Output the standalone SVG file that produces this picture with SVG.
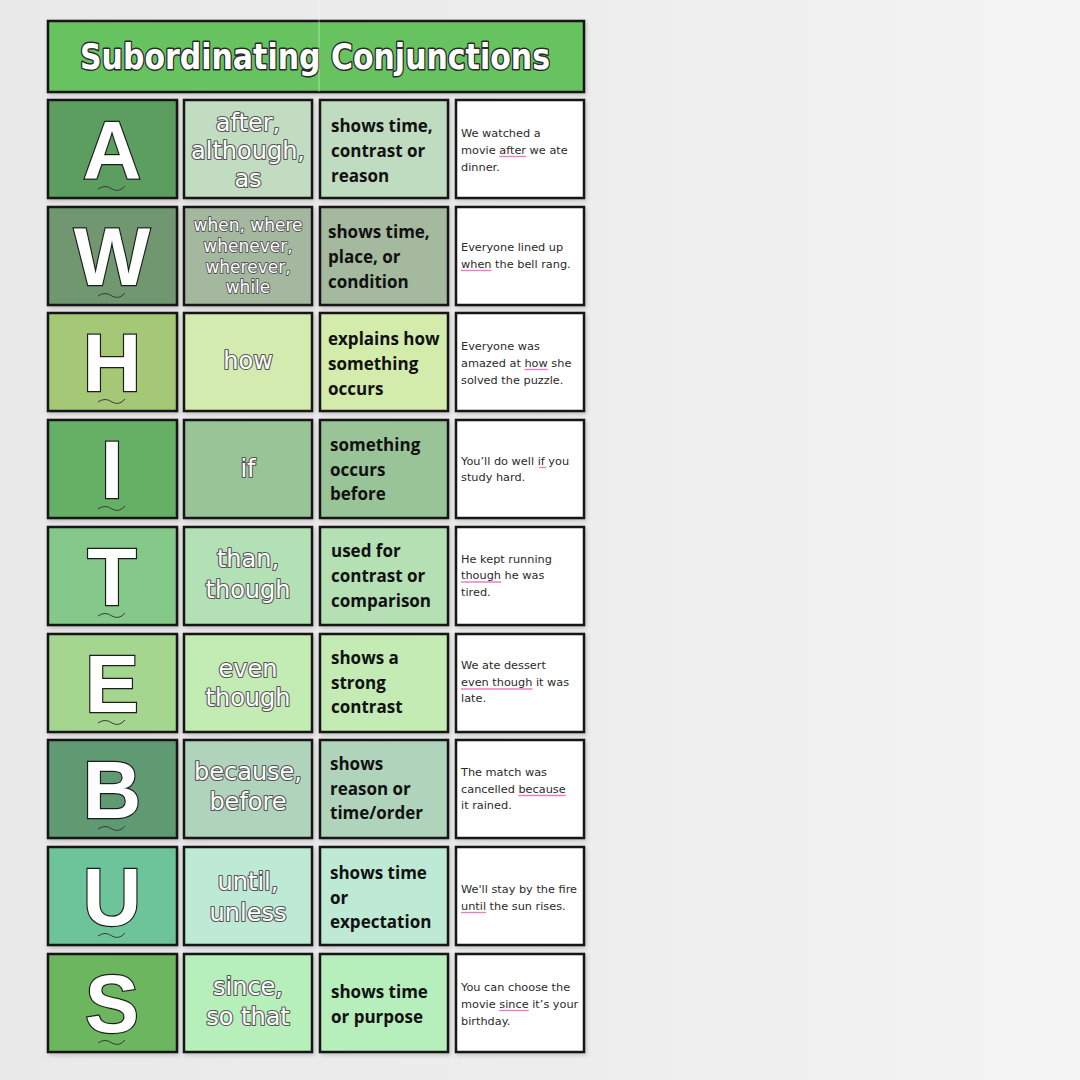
<svg xmlns="http://www.w3.org/2000/svg" width="1080" height="1080" viewBox="0 0 1080 1080">
<defs>
<linearGradient id="bg" x1="0" y1="0" x2="1" y2="0">
<stop offset="0" stop-color="#e9e9e9"/>
<stop offset="0.6" stop-color="#eeeeee"/>
<stop offset="1" stop-color="#f4f4f4"/>
</linearGradient>
<filter id="sh" x="-10%" y="-10%" width="125%" height="125%">
<feDropShadow dx="1.5" dy="2" stdDeviation="2" flood-color="#000" flood-opacity="0.18"/>
</filter>
<path id="squig" d="M-14,0 q7,-5 14,0 q7,4 13,-3" fill="none" stroke="#3a3a3a" stroke-width="1"/>
</defs>
<style>
.box{stroke:#141414;stroke-width:2.5;filter:url(#sh)}
.ex{fill:#ffffff}
.let{font-family:"Liberation Sans",Arial,sans-serif;font-weight:700;font-size:81px;fill:#ffffff;stroke:#1e1e1e;stroke-width:2.4;paint-order:stroke;text-anchor:middle}
.conj{font-family:"DejaVu Sans",sans-serif;font-size:24px;fill:#ffffff;stroke:#555555;stroke-width:2.2;stroke-linejoin:round;paint-order:stroke;text-anchor:middle}
.conj.sm{font-size:17px;stroke-width:1.8}
.desc{font-family:"Open Sans",sans-serif;font-weight:700;font-size:17px;fill:#111111}
.samp{font-family:"DejaVu Sans",sans-serif;font-size:11.3px;fill:#2a2a2a}
.ul{stroke:#f27bc0;stroke-width:1.4;fill:none}
.title{font-family:"DejaVu Sans",sans-serif;font-weight:700;font-size:36px;fill:#ffffff;stroke:#2a2a2a;stroke-width:3;stroke-linejoin:round;paint-order:stroke;text-anchor:middle}
</style>
<rect x="0" y="0" width="1080" height="1080" fill="url(#bg)"/>

<g id="header">
<rect class="box" x="48" y="21" width="536" height="71" fill="#66c35f"/>
<text class="title" x="315" y="69" textLength="470" lengthAdjust="spacingAndGlyphs">Subordinating Conjunctions</text>
</g>
<line x1="319" y1="0" x2="319" y2="92" stroke="#ffffff" stroke-opacity="0.45" stroke-width="1"/>

<!-- Row A -->
<g transform="translate(0,100)">
<g id="letter-A"><rect class="box" x="48" y="0" width="129" height="98" fill="#5c9e60"/><text class="let" x="112" y="78">A</text><use href="#squig" x="112" y="89"/></g>
<g id="conj-A"><rect class="box" x="184" y="0" width="128" height="98" fill="#c1dcc1"/>
<text class="conj" x="248" y="31">after,</text><text class="conj" x="248" y="59">although,</text><text class="conj" x="248" y="87">as</text></g>
<g id="desc-A"><rect class="box" x="320" y="0" width="128" height="98" fill="#c0dcc0"/>
<text class="desc" x="331" y="32">shows time,</text><text class="desc" x="331" y="57">contrast or</text><text class="desc" x="331" y="82">reason</text></g>
<g id="ex-A"><rect class="box ex" x="456" y="0" width="128" height="98"/>
<line class="ul" x1="499.3" y1="56.5" x2="526.2" y2="56.5"/>
<text class="samp" x="461" y="37">We watched a</text><text class="samp" x="461" y="54">movie after we ate</text><text class="samp" x="461" y="71">dinner.</text></g>
</g>

<!-- Row W -->
<g transform="translate(0,207)">
<g id="letter-W"><rect class="box" x="48" y="0" width="129" height="98" fill="#6f9770"/><text class="let" x="112" y="78">W</text><use href="#squig" x="112" y="89"/></g>
<g id="conj-W"><rect class="box" x="184" y="0" width="128" height="98" fill="#a3b89f"/>
<text class="conj sm" x="248" y="24">when, where</text><text class="conj sm" x="248" y="45">whenever,</text><text class="conj sm" x="248" y="66">wherever,</text><text class="conj sm" x="248" y="86">while</text></g>
<g id="desc-W"><rect class="box" x="320" y="0" width="128" height="98" fill="#a5b99e"/>
<text class="desc" x="328" y="31">shows time,</text><text class="desc" x="328" y="56">place, or</text><text class="desc" x="328" y="81">condition</text></g>
<g id="ex-W"><rect class="box ex" x="456" y="0" width="128" height="98"/>
<line class="ul" x1="461" y1="63.5" x2="491.5" y2="63.5"/>
<text class="samp" x="461" y="44">Everyone lined up</text><text class="samp" x="461" y="61">when the bell rang.</text></g>
</g>

<!-- Row H -->
<g transform="translate(0,313)">
<g id="letter-H"><rect class="box" x="48" y="0" width="129" height="98" fill="#a4c874"/><text class="let" x="112" y="78">H</text><use href="#squig" x="112" y="89"/></g>
<g id="conj-H"><rect class="box" x="184" y="0" width="128" height="98" fill="#d3ebaf"/>
<text class="conj" x="248" y="56">how</text></g>
<g id="desc-H"><rect class="box" x="320" y="0" width="128" height="98" fill="#d3ebab"/>
<text class="desc" x="328" y="32">explains how</text><text class="desc" x="328" y="57">something</text><text class="desc" x="328" y="82">occurs</text></g>
<g id="ex-H"><rect class="box ex" x="456" y="0" width="128" height="98"/>
<line class="ul" x1="524.5" y1="56.5" x2="547.8" y2="56.5"/>
<text class="samp" x="461" y="37">Everyone was</text><text class="samp" x="461" y="54">amazed at how she</text><text class="samp" x="461" y="71">solved the puzzle.</text></g>
</g>

<!-- Row I -->
<g transform="translate(0,420)">
<g id="letter-I"><rect class="box" x="48" y="0" width="129" height="98" fill="#66b066"/><text class="let" x="112" y="78">I</text><use href="#squig" x="112" y="89"/></g>
<g id="conj-I"><rect class="box" x="184" y="0" width="128" height="98" fill="#98c498"/>
<text class="conj" x="248" y="57">if</text></g>
<g id="desc-I"><rect class="box" x="320" y="0" width="128" height="98" fill="#99c497"/>
<text class="desc" x="330" y="31">something</text><text class="desc" x="330" y="56">occurs</text><text class="desc" x="330" y="80">before</text></g>
<g id="ex-I"><rect class="box ex" x="456" y="0" width="128" height="98"/>
<line class="ul" x1="539.2" y1="47.5" x2="546.3" y2="47.5"/>
<text class="samp" x="461" y="45">You’ll do well if you</text><text class="samp" x="461" y="61">study hard.</text></g>
</g>

<!-- Row T -->
<g transform="translate(0,527)">
<g id="letter-T"><rect class="box" x="48" y="0" width="129" height="98" fill="#84c88a"/><text class="let" x="112" y="78">T</text><use href="#squig" x="112" y="89"/></g>
<g id="conj-T"><rect class="box" x="184" y="0" width="128" height="98" fill="#b3e0b5"/>
<text class="conj" x="248" y="40">than,</text><text class="conj" x="248" y="71">though</text></g>
<g id="desc-T"><rect class="box" x="320" y="0" width="128" height="98" fill="#b4e0b4"/>
<text class="desc" x="331" y="30">used for</text><text class="desc" x="331" y="55">contrast or</text><text class="desc" x="331" y="80">comparison</text></g>
<g id="ex-T"><rect class="box ex" x="456" y="0" width="128" height="98"/>
<line class="ul" x1="461" y1="55" x2="501" y2="55"/>
<text class="samp" x="461" y="36">He kept running</text><text class="samp" x="461" y="52">though he was</text><text class="samp" x="461" y="69">tired.</text></g>
</g>

<!-- Row E -->
<g transform="translate(0,634)">
<g id="letter-E"><rect class="box" x="48" y="0" width="129" height="98" fill="#a5d68f"/><text class="let" x="112" y="78">E</text><use href="#squig" x="112" y="89"/></g>
<g id="conj-E"><rect class="box" x="184" y="0" width="128" height="98" fill="#c3ebb4"/>
<text class="conj" x="248" y="43">even</text><text class="conj" x="248" y="72">though</text></g>
<g id="desc-E"><rect class="box" x="320" y="0" width="128" height="98" fill="#c3ebb3"/>
<text class="desc" x="331" y="30">shows a</text><text class="desc" x="331" y="55">strong</text><text class="desc" x="331" y="79">contrast</text></g>
<g id="ex-E"><rect class="box ex" x="456" y="0" width="128" height="98"/>
<line class="ul" x1="461" y1="55" x2="532.4" y2="55"/>
<text class="samp" x="461" y="35">We ate dessert</text><text class="samp" x="461" y="52">even though it was</text><text class="samp" x="461" y="68">late.</text></g>
</g>

<!-- Row B -->
<g transform="translate(0,740)">
<g id="letter-B"><rect class="box" x="48" y="0" width="129" height="98" fill="#5e9a72"/><text class="let" x="112" y="78">B</text><use href="#squig" x="112" y="89"/></g>
<g id="conj-B"><rect class="box" x="184" y="0" width="128" height="98" fill="#afd3bb"/>
<text class="conj" x="248" y="40">because,</text><text class="conj" x="248" y="70">before</text></g>
<g id="desc-B"><rect class="box" x="320" y="0" width="128" height="98" fill="#afd3bb"/>
<text class="desc" x="330" y="30">shows</text><text class="desc" x="330" y="55">reason or</text><text class="desc" x="330" y="79">time/order</text></g>
<g id="ex-B"><rect class="box ex" x="456" y="0" width="128" height="98"/>
<line class="ul" x1="518.5" y1="55.5" x2="565.8" y2="55.5"/>
<text class="samp" x="461" y="36">The match was</text><text class="samp" x="461" y="53">cancelled because</text><text class="samp" x="461" y="69">it rained.</text></g>
</g>

<!-- Row U -->
<g transform="translate(0,847)">
<g id="letter-U"><rect class="box" x="48" y="0" width="129" height="98" fill="#6dc49b"/><text class="let" x="112" y="78">U</text><use href="#squig" x="112" y="89"/></g>
<g id="conj-U"><rect class="box" x="184" y="0" width="128" height="98" fill="#bde9d5"/>
<text class="conj" x="248" y="43">until,</text><text class="conj" x="248" y="74">unless</text></g>
<g id="desc-U"><rect class="box" x="320" y="0" width="128" height="98" fill="#bde9d5"/>
<text class="desc" x="330" y="32">shows time</text><text class="desc" x="330" y="57">or</text><text class="desc" x="330" y="81">expectation</text></g>
<g id="ex-U"><rect class="box ex" x="456" y="0" width="128" height="98"/>
<line class="ul" x1="461" y1="65.5" x2="486" y2="65.5"/>
<text class="samp" x="461" y="46">We'll stay by the fire</text><text class="samp" x="461" y="63">until the sun rises.</text></g>
</g>

<!-- Row S -->
<g transform="translate(0,954)">
<g id="letter-S"><rect class="box" x="48" y="0" width="129" height="98" fill="#6cb65e"/><text class="let" x="112" y="78">S</text><use href="#squig" x="112" y="89"/></g>
<g id="conj-S"><rect class="box" x="184" y="0" width="128" height="98" fill="#b6efba"/>
<text class="conj" x="248" y="41">since,</text><text class="conj" x="248" y="71">so that</text></g>
<g id="desc-S"><rect class="box" x="320" y="0" width="128" height="98" fill="#b6efbb"/>
<text class="desc" x="331" y="44">shows time</text><text class="desc" x="331" y="69">or purpose</text></g>
<g id="ex-S"><rect class="box ex" x="456" y="0" width="128" height="98"/>
<line class="ul" x1="499.3" y1="56.5" x2="528.7" y2="56.5"/>
<text class="samp" x="461" y="37">You can choose the</text><text class="samp" x="461" y="54">movie since it’s your</text><text class="samp" x="461" y="71">birthday.</text></g>
</g>

<g id="connectors"/>
</svg>
